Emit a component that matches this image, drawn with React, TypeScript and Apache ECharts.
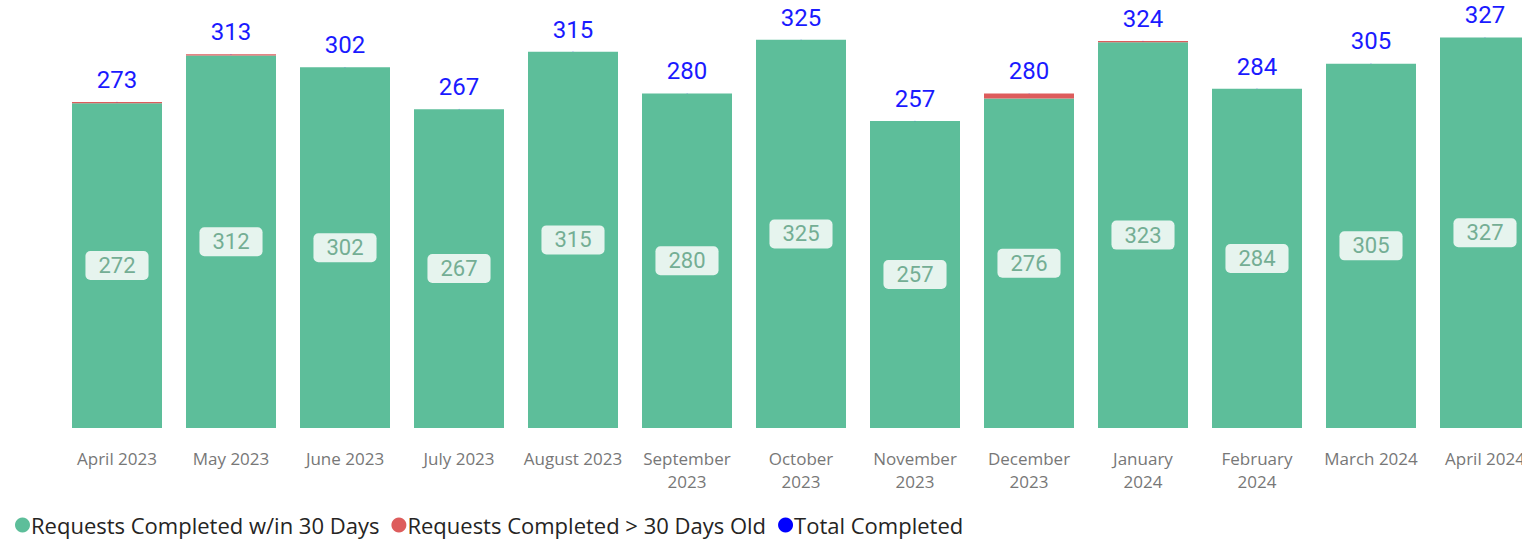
import React, { useEffect, useRef } from "react";
import * as echarts from "echarts";

const categories = [
  "April 2023", "May 2023", "June 2023", "July 2023", "August 2023",
  "September\n2023", "October\n2023", "November\n2023", "December\n2023",
  "January\n2024", "February\n2024", "March 2024", "April 2024",
];
const within30 = [272, 312, 302, 267, 315, 280, 325, 257, 276, 323, 284, 305, 327];
const over30 = [1, 1, 0, 0, 0, 0, 0, 0, 4, 1, 0, 0, 0];
const totals = [273, 313, 302, 267, 315, 280, 325, 257, 280, 324, 284, 305, 327];

export default function App() {
  const ref = useRef<HTMLDivElement>(null);
  useEffect(() => {
    if (!ref.current) return;
    const chart = echarts.init(ref.current, null, { renderer: "svg" });
    chart.setOption({
      animation: false,
      grid: { left: 60, right: 0, top: 10, bottom: 112 },
      legend: {
        left: 10,
        top: 509,
        icon: "circle",
        itemWidth: 15,
        itemHeight: 15,
        itemGap: 12,
        textStyle: { fontFamily: "Open Sans", fontSize: 22, color: "#252423", padding: [0, 0, 0, -4] },
        data: ["Requests Completed w/in 30 Days", "Requests Completed > 30 Days Old", "Total Completed"],
      },
      xAxis: {
        type: "category",
        data: categories,
        axisLine: { show: false },
        axisTick: { show: false },
        axisLabel: {
          interval: 0,
          margin: 19,
          color: "#777777",
          fontFamily: "Open Sans",
          fontSize: 17,
          lineHeight: 23,
        },
      },
      yAxis: {
        type: "value",
        min: 0,
        max: 350,
        show: false,
        splitLine: { show: false },
      },
      series: [
        {
          name: "Requests Completed w/in 30 Days",
          type: "bar",
          stack: "t",
          barWidth: 90,
          data: within30,
          itemStyle: { color: "#5dbe9a" },
          label: {
            show: true,
            position: "inside",
            fontFamily: "Roboto",
            fontSize: 22,
            color: "#74ae94",
            backgroundColor: "#e6f4ee",
            borderRadius: 5,
            padding: [4, 13, 3, 13],
          },
        },
        {
          name: "Requests Completed > 30 Days Old",
          type: "bar",
          stack: "t",
          barWidth: 90,
          data: over30,
          itemStyle: { color: "#dd5c5c" },
        },
        {
          name: "Total Completed",
          type: "line",
          data: totals,
          symbol: "circle",
          symbolSize: 0.5,
          itemStyle: { color: "#0000ff" },
          lineStyle: { width: 0, opacity: 0 },
          label: {
            show: true,
            position: "top",
            distance: 10,
            fontFamily: "Roboto",
            fontSize: 24,
            color: "#1a1aff",
          },
        },
      ],
    });
    return () => chart.dispose();
  }, []);
  return (
    <div style={{ position: "fixed", left: 0, top: 0, width: 1522, height: 540, overflow: "hidden", background: "#fff" }}>
      <div ref={ref} style={{ width: 1542, height: 540 }} />
    </div>
  );
}
